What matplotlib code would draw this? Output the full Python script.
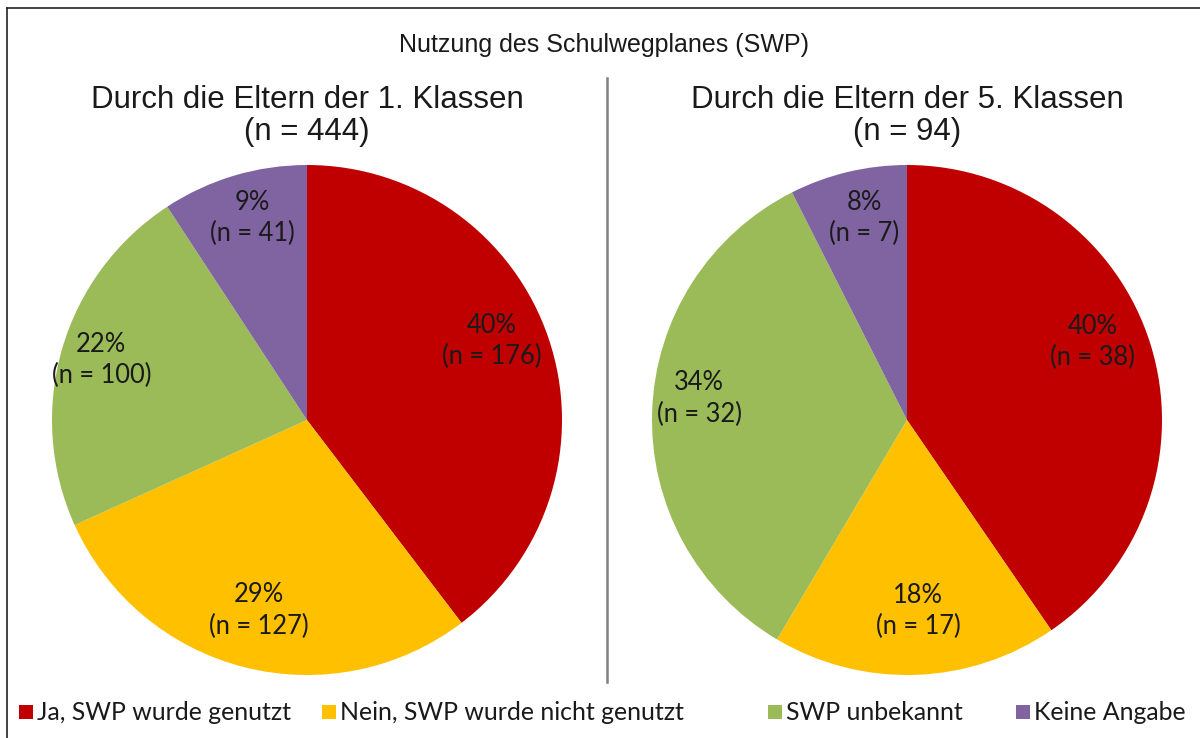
import matplotlib
matplotlib.use("Agg")
import matplotlib.pyplot as plt
import numpy as np
from matplotlib.patches import Rectangle
from matplotlib.lines import Line2D

title = "Nutzung des Schulwegplanes (SWP)"
subtitles = ["Durch die Eltern der 1. Klassen\n(n = 444)",
             "Durch die Eltern der 5. Klassen\n(n = 94)"]
categories = ["Ja, SWP wurde genutzt", "Nein, SWP wurde nicht genutzt",
              "SWP unbekannt", "Keine Angabe"]
counts_1 = [176, 127, 100, 41]
counts_5 = [38, 17, 32, 7]
pct_1 = [40, 29, 22, 9]
pct_5 = [40, 18, 34, 8]
colors = ["#C00000", "#FFC000", "#9BBB59", "#8064A2"]

# label placement styling (radius fraction, angle nudge in degrees)
label_r_1 = [0.79, 0.77, 0.84, 0.82]
label_nudge_1 = [4.5, 0.0, 0.0, -1.5]
label_r_5 = [0.79, 0.75, 0.82, 0.81]
label_nudge_5 = [5.5, 1.5, -4.0, -1.5]

TITLE_FONT = "Liberation Sans"
LABEL_FONT = "Lato"

fig = plt.figure(figsize=(12, 7.38), dpi=100)

def draw_pie(ax, counts, pcts, radii, nudges):
    ax.pie(counts, colors=colors, startangle=90, counterclock=False,
           radius=1.0, wedgeprops=dict(linewidth=0))
    total = sum(counts)
    start = 90.0
    for c, p, r, nd in zip(counts, pcts, radii, nudges):
        sweep = 360.0 * c / total
        mid = np.deg2rad(start - sweep / 2 + nd)
        ax.text(r * np.cos(mid), r * np.sin(mid), f"{p}%\n(n = {c})",
                ha="center", va="center", fontsize=18.4, family=LABEL_FONT,
                color="#1a1a1a", linespacing=1.32)
        start -= sweep
    ax.set_xlim(-1, 1)
    ax.set_ylim(-1, 1)
    ax.set_aspect("equal")
    ax.axis("off")

ax1 = fig.add_axes([52/1200, 63/738, 510/1200, 510/738])
draw_pie(ax1, counts_1, pct_1, label_r_1, label_nudge_1)
ax2 = fig.add_axes([652/1200, 63/738, 510/1200, 510/738])
draw_pie(ax2, counts_5, pct_5, label_r_5, label_nudge_5)

fig.text(604/1200, 1 - 45/738, title, ha="center", va="center",
         fontsize=18, family=TITLE_FONT, color="#1a1a1a")
fig.text(307/1200, 1 - 116/738, subtitles[0], ha="center", va="center",
         fontsize=22.5, family=TITLE_FONT, color="#1a1a1a", linespacing=1.12)
fig.text(907/1200, 1 - 116/738, subtitles[1], ha="center", va="center",
         fontsize=22.5, family=TITLE_FONT, color="#1a1a1a", linespacing=1.12)

# divider
fig.add_artist(Line2D([607/1200, 607/1200], [1 - 78/738, 1 - 682/738],
                      color="#808080", linewidth=1.8))
# frame (left and top)
fig.add_artist(Line2D([7/1200, 7/1200], [0, 1 - 8/738], color="#222222", linewidth=1.2))
fig.add_artist(Line2D([7/1200, 1], [1 - 8/738, 1 - 8/738], color="#222222", linewidth=1.2))

# legend
leg_x = [19, 322, 768, 1016]
ly = 1 - 712/738
for x, lab, col in zip(leg_x, categories, colors):
    fig.add_artist(Rectangle((x/1200, ly - 7/738), 14/1200, 14/738,
                             facecolor=col, edgecolor="none", transform=fig.transFigure))
    fig.text((x + 18)/1200, ly, lab, ha="left", va="center", fontsize=17.9,
             family=LABEL_FONT, color="#1a1a1a")

fig.savefig("out.png", dpi=100, facecolor="white")
